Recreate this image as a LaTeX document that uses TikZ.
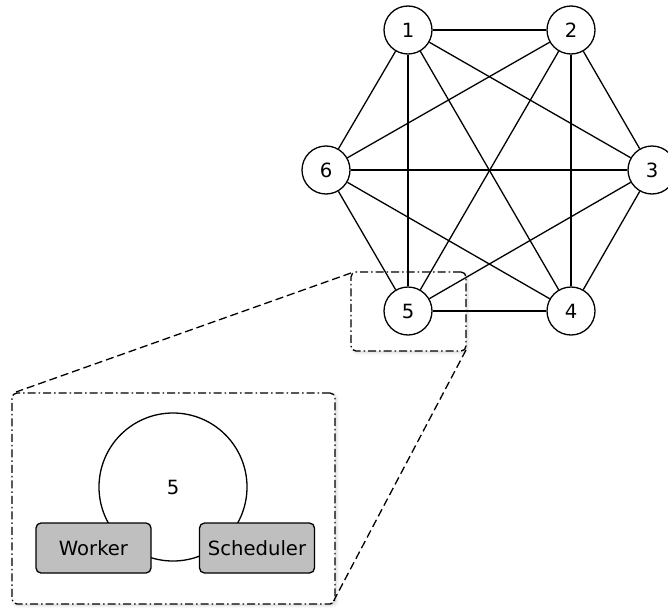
\documentclass[tikz,border=0pt]{standalone}
\usepackage{fontspec}
\setmainfont{DejaVu Sans}
\usetikzlibrary{shadows.blur}
\begin{document}
\begin{tikzpicture}[x=1pt,y=-1pt,
  line width=1.3pt,
  font=\fontsize{19.6}{23}\selectfont,
  peer/.style={circle,draw,fill=white,minimum size=48pt,inner sep=0pt},
  role/.style={rectangle,rounded corners=5pt,draw,fill=black!25,
    minimum width=115pt,minimum height=50pt,inner sep=0pt},
  zoombox/.style={draw,rounded corners=5pt,fill=white,
    dash pattern=on 8pt off 3pt on 1.5pt off 3pt,
    blur shadow={shadow xshift=1.5pt,shadow yshift=-1.5pt,shadow opacity=18,shadow blur radius=3pt}},
  guide/.style={draw,dash pattern=on 8pt off 4pt}]
\useasboundingbox (0,0) rectangle (668,607);

% zoom frames and the guide lines between them
\node[zoombox,minimum width=115pt,minimum height=79pt] (small) at (408.5,311.5) {};
\node[zoombox,minimum width=323pt,minimum height=211pt] (big) at (173.5,498.5) {};
\coordinate (st) at (351,273);
\coordinate (sb) at (466,350);
\coordinate (bt) at (16,392);
\coordinate (bb) at (332,604);
\draw[guide] (st) -- (bt);
\draw[guide] (sb) -- (bb);

% six fully connected peers
\foreach \n/\x/\y in {1/408/30, 2/571/30, 3/652/170, 4/571/311, 5/408/311, 6/326/170}
  \node[peer] (p\n) at (\x,\y) {\n};
\foreach \a/\b in {1/2,1/3,1/4,1/5,1/6,2/3,2/4,2/5,2/6,3/4,3/5,3/6,4/5,4/6,5/6}
  \draw (p\a) -- (p\b);

% inside peer 5
\node[circle,draw,minimum size=148pt,inner sep=0pt] (core) at (173,487) {5};
\node[role] (worker) at (93.5,548) {Worker};
\node[role] (sched) at (257,548) {Scheduler};
\end{tikzpicture}
\end{document}
